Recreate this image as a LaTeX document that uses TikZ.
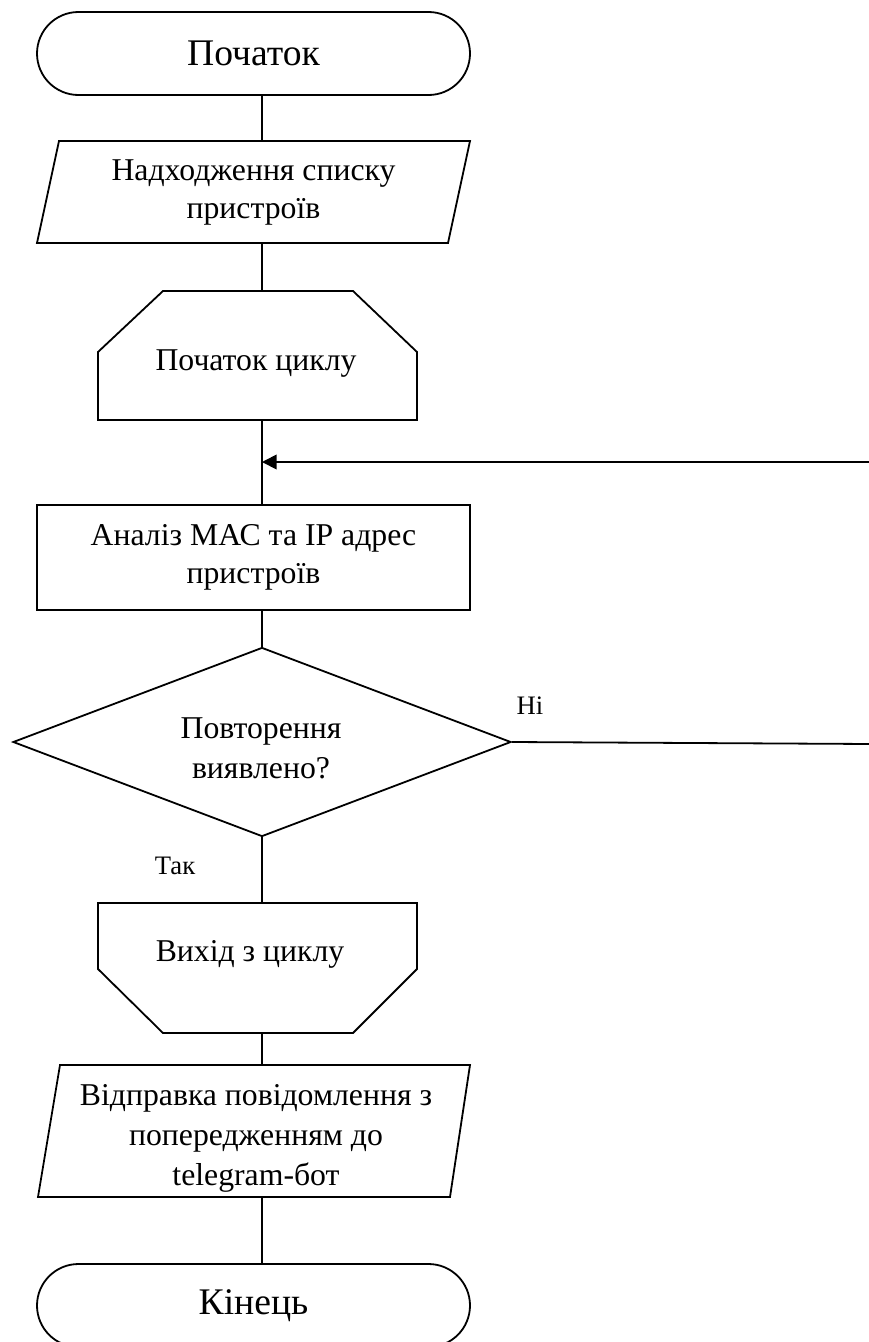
\documentclass[tikz,border=0pt]{standalone}
\usepackage{fontspec}
\setmainfont{Liberation Serif}
\usetikzlibrary{shapes.misc,shapes.geometric,arrows.meta}

\begin{document}
\begin{tikzpicture}[x=0.75pt,y=-0.75pt,
  line width=1.35pt,
  bodytext/.style={font=\fontsize{23.8}{28.5}\selectfont, align=center, inner sep=0pt},
  termbox/.style={draw, rounded rectangle, rounded rectangle arc length=180,
    minimum width=324.75pt, minimum height=62.25pt, inner sep=0pt,
    font=\fontsize{28.2}{33}\selectfont},
  procbox/.style={draw, rectangle, minimum width=324.75pt, minimum height=78.75pt,
    inner sep=0pt, align=center, font=\fontsize{23.8}{28.5}\selectfont},
  decbox/.style={draw, diamond, aspect=2.635, minimum width=373.5pt, minimum height=141.75pt,
    inner sep=0pt},
  branch/.style={font=\fontsize{20}{24}\selectfont, inner sep=0pt},
  flow/.style={draw},
  loopback/.style={draw, -{Triangle[length=11pt,width=11pt]}}]

\useasboundingbox (0,0) rectangle (868,1342);

% main axis of the flow
\coordinate (ax) at (262,0);

% start terminal
\node[termbox] (start) at (253.5,53.5) {Початок};

% input: list of devices
\draw (59,141) -- (470,141) -- (448,243) -- (37,243) -- cycle;
\coordinate (in1n) at (262,141);
\coordinate (in1s) at (262,243);
\node[bodytext] (in1) at (253.5,192) {Надходження списку\\пристроїв};

% loop start
\draw (163,291) -- (353,291) -- (417,352) -- (417,420) -- (98,420) -- (98,352) -- cycle;
\coordinate (lbn) at (262,291);
\coordinate (lbs) at (262,420);
\node[bodytext] (lb) at (256,364) {Початок циклу};

% analysis step
\node[procbox] (ana) at (253.5,557.5) {Аналіз МАС та IP адрес\\пристроїв};

% decision
\node[decbox] (dec) at (262,742) {};
\node[bodytext, font=\fontsize{23.8}{30}\selectfont] (decl) at (261,748) {Повторення\\виявлено?};

% loop end
\draw (98,903) -- (417,903) -- (417,969) -- (353,1033) -- (163,1033) -- (98,969) -- cycle;
\coordinate (lxn) at (262,903);
\coordinate (lxs) at (262,1033);
\node[bodytext] (lx) at (250,954) {Вихід з циклу};

% output: warning to the bot
\draw (60,1065) -- (470,1065) -- (450,1197) -- (38,1197) -- cycle;
\coordinate (outn) at (262,1065);
\coordinate (outs) at (262,1197);
\node[bodytext, font=\fontsize{23.8}{30}\selectfont] (out) at (256,1138)
  {Відправка повідомлення з\\попередженням до\\telegram-бот};

% end terminal
\node[termbox] (stop) at (253.5,1305.5) {Кінець};

% connectors
\path[flow] (start.south -| ax) -- (in1n);
\path[flow] (in1s) -- (lbn);
\path[flow] (lbs) -- (ana.north -| ax);
\path[flow] (ana.south -| ax) -- (dec.north);
\path[flow] (dec.south) -- (lxn);
\path[flow] (lxs) -- (outn);
\path[flow] (outs) -- (stop.north -| ax);

% return path of the loop
\coordinate (loopin) at (262,462);
\coordinate (rtop) at (872,462);
\coordinate (rbot) at (872,744);
\path[loopback] (dec.east) -- (rbot) -- (rtop) -- (loopin);

% branch labels
\node[branch] (no) at (530,706) {Ні};
\node[branch] (yes) at (175,866) {Так};

\end{tikzpicture}
\end{document}
